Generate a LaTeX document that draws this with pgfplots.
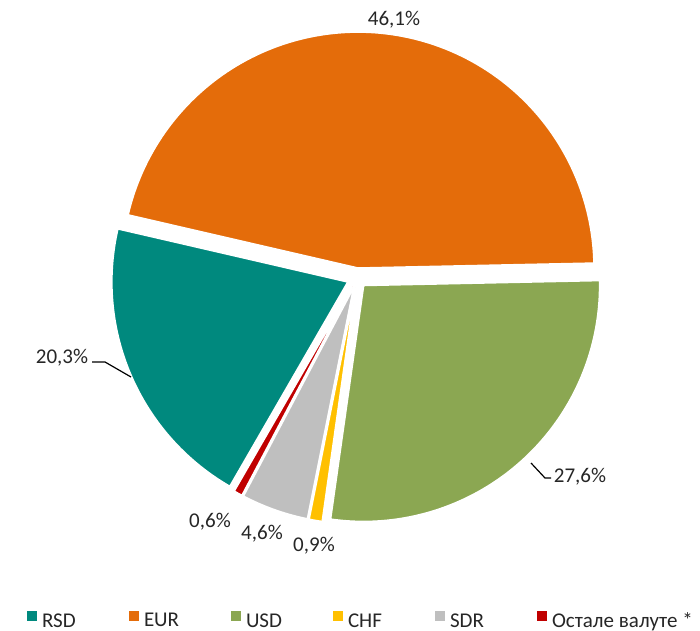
\documentclass[border=0pt]{standalone}
\usepackage{pgfplots}
\pgfplotsset{compat=1.18}
\usepackage{pgfplotstable}
\usepackage{fontspec}
\setmainfont{Carlito}
\definecolor{slice0}{HTML}{00897E}
\definecolor{slice1}{HTML}{E46C0A}
\definecolor{slice2}{HTML}{8BA752}
\definecolor{slice3}{HTML}{FFC000}
\definecolor{slice4}{HTML}{BFBFBF}
\definecolor{slice5}{HTML}{C00000}
\definecolor{textgray}{HTML}{262626}
\pgfplotstableread{
name value
RSD 20.3
EUR 46.1
USD 27.6
CHF 0.9
SDR 4.6
Other 0.6
}\piedata
\begin{document}
\begin{tikzpicture}[font=\fontsize{10.5}{12.6}\selectfont, text=textgray]
\begin{axis}[x=0.5pt,y=0.5pt,xmin=0,xmax=700,ymin=0,ymax=630,hide axis,clip=false,
  legend columns=6,
  legend style={at={(axis cs:27,9)},anchor=west,draw=none,fill=none,inner sep=0pt,outer sep=0pt,
    nodes={inner sep=0pt, text=textgray},
    /tikz/every odd column/.append style={column sep=2.5pt}},
  legend image code/.code={\path[#1,draw=none] (0pt,0.2pt) rectangle (5pt,5.2pt);}
]
\addplot[draw=none, forget plot] coordinates {(0,0) (700,630)};
\pgfmathsetmacro{\cur}{240}
\pgfplotsforeachungrouped \i in {0,...,5}{%
  \pgfplotstablegetelem{\i}{value}\of\piedata
  \pgfmathsetmacro{\spn}{\pgfplotsretval*3.6/1.001}%
  \pgfmathsetmacro{\aone}{\cur}%
  \pgfmathsetmacro{\atwo}{\cur-\spn}%
  \pgfmathsetmacro{\amid}{(\aone+\atwo)/2}%
  \pgfmathsetmacro{\apx}{357+10*cos(\amid)}%
  \pgfmathsetmacro{\apy}{352+10*sin(\amid)}%
  \edef\doplot{\noexpand\addplot[fill=slice\i, draw=white, line width=0.8pt, domain=\atwo:\aone, samples=120, variable=\noexpand\t]
    ({\apx+236*cos(\noexpand\t)},{\apy+236*sin(\noexpand\t)}) -- (axis cs:\apx,\apy) -- cycle;}%
  \doplot
  \global\let\cur\atwo
}
\addplot[black, line width=0.6pt, forget plot] coordinates {(92,268) (105,268) (131,253)};
\addplot[black, line width=0.6pt, forget plot] coordinates {(531,167) (545,152) (551,152)};
\node at (axis cs:394,610) {46,1\%};
\node at (axis cs:580,153) {27,6\%};
\node at (axis cs:62,272) {20,3\%};
\node at (axis cs:210,108) {0,6\%};
\node at (axis cs:262,96) {4,6\%};
\node at (axis cs:314,84) {0,9\%};
\legend{\makebox[43.5pt][l]{RSD},\makebox[43.5pt][l]{EUR},\makebox[43.5pt][l]{USD},\makebox[43.5pt][l]{CHF},\makebox[43.5pt][l]{SDR},Остале валуте *}
\end{axis}
\end{tikzpicture}
\end{document}
